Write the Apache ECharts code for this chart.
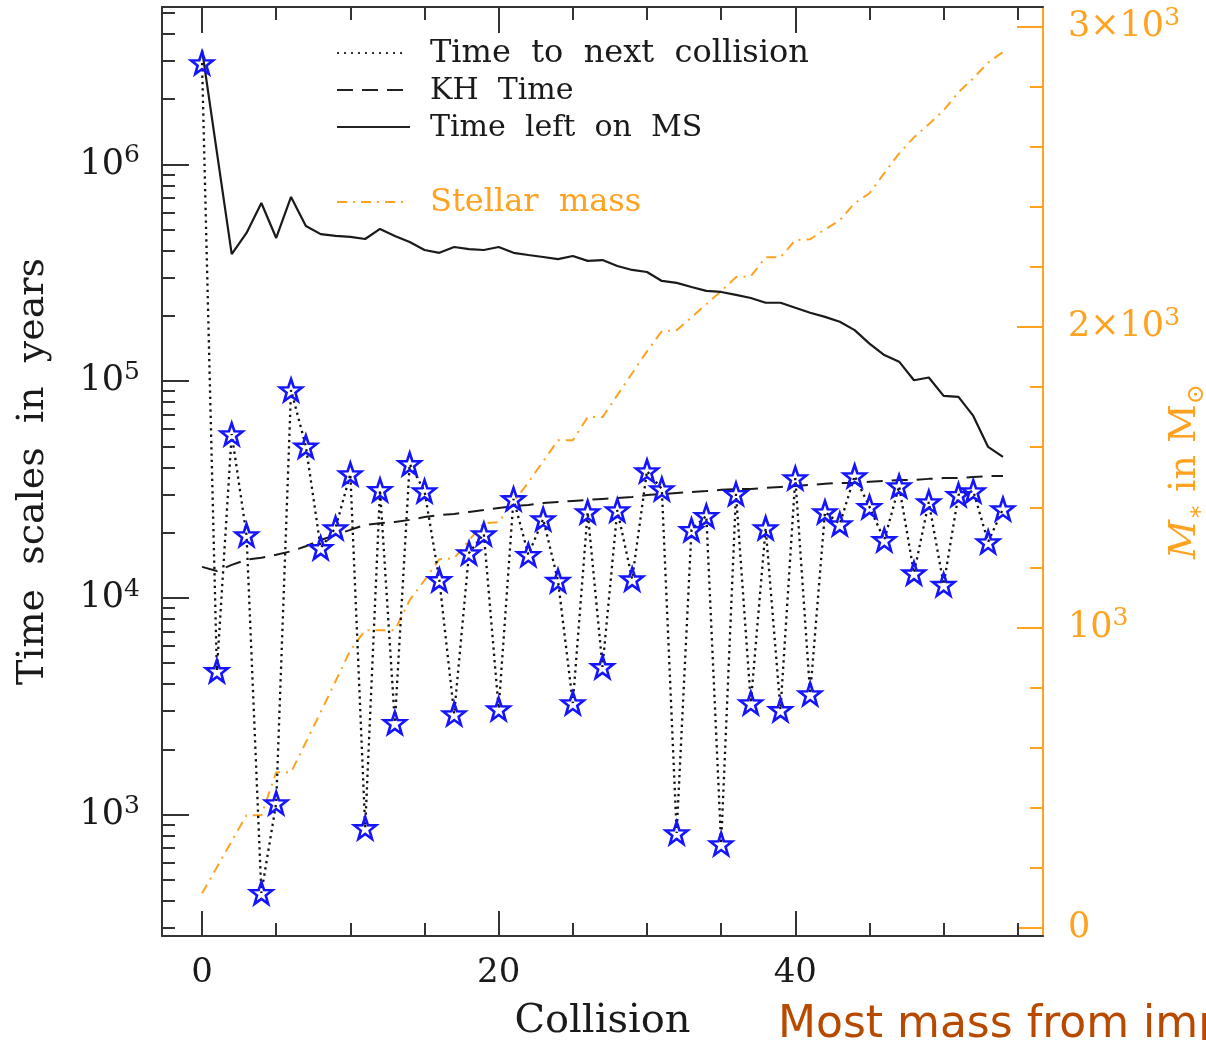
<!DOCTYPE html>
<html>
<head>
<meta charset="utf-8">
<script src="https://cdn.jsdelivr.net/npm/echarts@6/dist/echarts.min.js"></script>
<style>
html,body{margin:0;padding:0;background:#ffffff;}
#chart{width:1206px;height:1040px;}
</style>
</head>
<body>
<div id="chart"></div>
<script>
// ---------------- data ----------------
const collisions = [0,1,2,3,4,5,6,7,8,9,10,11,12,13,14,15,16,17,18,19,20,21,22,23,24,25,26,27,28,29,30,31,32,33,34,35,36,37,38,39,40,41,42,43,44,45,46,47,48,49,50,51,52,53,54];

// Time to next collision (years)
const timeToNext = [2.94e6, 4600, 5.7e4, 1.95e4, 435, 1130, 9.1e4, 5.0e4, 1.70e4, 2.10e4,
                    3.73e4, 867, 3.15e4, 2650, 4.15e4, 3.11e4, 1.21e4, 2910, 1.61e4, 1.97e4,
                    3070, 2.86e4, 1.58e4, 2.31e4, 1.20e4, 3270, 2.49e4, 4800, 2.54e4, 1.22e4,
                    3.85e4, 3.18e4, 822, 2.06e4, 2.39e4, 731, 3.02e4, 3270, 2.10e4, 3040,
                    3.57e4, 3600, 2.49e4, 2.19e4, 3.65e4, 2.63e4, 1.85e4, 3.28e4, 1.30e4, 2.77e4,
                    1.15e4, 2.99e4, 3.11e4, 1.81e4, 2.57e4];

// Kelvin-Helmholtz time (years)
const khTime = [13900, 13300, 14200, 15000, 15300, 15800, 16400, 17300, 18500, 19500,
                20600, 21700, 22100, 22400, 22900, 23600, 24100, 24400, 24900, 25400,
                26000, 26500, 26800, 27400, 27700, 28000, 28300, 28600, 28900, 29200,
                29800, 30100, 30500, 30800, 31100, 31500, 31800, 31800, 32200, 32500,
                32800, 33200, 33600, 33900, 33900, 34300, 34600, 35000, 35000, 35400,
                35700, 35700, 36100, 36500, 36500];

// Time left on main sequence (years)
const msTime = [3.38e6, 1.14e6, 3.86e5, 4.83e5, 6.64e5, 4.58e5, 7.08e5, 5.20e5, 4.77e5, 4.68e5,
                4.63e5, 4.53e5, 5.04e5, 4.68e5, 4.39e5, 4.03e5, 3.91e5, 4.16e5, 4.07e5, 4.03e5,
                4.16e5, 3.91e5, 3.82e5, 3.74e5, 3.66e5, 3.78e5, 3.59e5, 3.62e5, 3.40e5, 3.26e5,
                3.19e5, 2.90e5, 2.84e5, 2.72e5, 2.61e5, 2.58e5, 2.50e5, 2.42e5, 2.30e5, 2.30e5,
                2.18e5, 2.07e5, 1.98e5, 1.88e5, 1.72e5, 1.49e5, 1.32e5, 1.23e5, 1.01e5, 1.04e5,
                8.55e4, 8.46e4, 6.91e4, 4.97e4, 4.47e4];

// Stellar mass (solar masses), right axis
const stellarMass = [115, 202, 289, 375, 375, 518, 518, 618, 718, 821,
                     924, 991, 991, 991, 1091, 1157, 1227, 1230, 1290, 1347,
                     1350, 1417, 1483, 1553, 1623, 1623, 1700, 1700, 1773, 1846,
                     1919, 1986, 1989, 2032, 2076, 2119, 2166, 2169, 2232, 2232,
                     2289, 2292, 2325, 2355, 2412, 2445, 2512, 2578, 2631, 2675,
                     2721, 2781, 2828, 2880, 2915];

// ticks and labels
const xMajorTicks = [0, 20, 40];
const xMinorTicks = [0, 5, 10, 15, 20, 25, 30, 35, 40, 45, 50, 55];
const yMajorTicks = [1e3, 1e4, 1e5, 1e6];
const yMinorTicks = [300, 400, 500, 600, 700, 800, 900,
                     2000, 3000, 4000, 5000, 6000, 7000, 8000, 9000,
                     2e4, 3e4, 4e4, 5e4, 6e4, 7e4, 8e4, 9e4,
                     2e5, 3e5, 4e5, 5e5, 6e5, 7e5, 8e5, 9e5,
                     2e6, 3e6, 4e6, 5e6];
const yTickLabels = {1000: '{b|10}{s|3}', 10000: '{b|10}{s|4}', 100000: '{b|10}{s|5}', 1000000: '{b|10}{s|6}'};
const massMajorTicks = [0, 1000, 2000, 3000];
const massMinorTicks = [0, 200, 400, 600, 800, 1000, 1200, 1400, 1600, 1800, 2000, 2200, 2400, 2600, 2800, 3000];
const massTickLabels = {0: '{b|0}', 1000: '{b|10}{s|3}', 2000: '{b|2×10}{s|3}', 3000: '{b|3×10}{s|3}'};

const legendLabels = ['Time  to  next  collision', 'KH  Time', 'Time  left  on  MS', 'Stellar  mass'];

// ---------------- chart ----------------
const SERIF = 'DejaVu Serif';
const BLACK = '#1a1a1a';
const AXIS = '#333333';
const ORANGE = '#ffa21f';
const BLUE = '#1414ff';
const STAR = 'path://M50 0 L61.76 33.82 L97.55 34.55 L69.02 56.18 L79.39 90.45 L50 70 L20.61 90.45 L30.98 56.18 L2.45 34.55 L38.24 33.82 Z';

function pairs(ys) { return collisions.map((c, i) => [c, ys[i]]); }

function supRich(color) {
  return {
    b: {fontFamily: SERIF, fontSize: 35, color: color, lineHeight: 42},
    s: {fontFamily: SERIF, fontSize: 25, color: color, lineHeight: 25, verticalAlign: 'top'}
  };
}

const xRange = {min: -2.7, max: 56.7};
const yRange = {min: 275, max: 5.33e6};
const mRange = {min: -27, max: 3065};

const chart = echarts.init(document.getElementById('chart'), null, {renderer: 'canvas'});

const option = {
  animation: false,
  backgroundColor: '#ffffff',
  grid: {left: 162, right: 163, top: 7, bottom: 104, containLabel: false, outerBoundsMode: 'none'},
  xAxis: [
    {
      type: 'value', position: 'bottom', min: xRange.min, max: xRange.max,
      axisLine: {show: true, onZero: false, lineStyle: {color: AXIS, width: 2}},
      axisTick: {show: true, inside: true, length: 13, customValues: xMinorTicks, lineStyle: {color: AXIS, width: 2}},
      axisLabel: {show: true, customValues: xMajorTicks, margin: 20, color: BLACK, fontFamily: SERIF, fontSize: 34},
      splitLine: {show: false},
      name: 'Collision', nameLocation: 'middle', nameGap: 66, nameMoveOverlap: false,
      nameTextStyle: {color: BLACK, fontFamily: SERIF, fontSize: 40}
    },
    {
      type: 'value', position: 'bottom', min: xRange.min, max: xRange.max,
      axisLine: {show: false, onZero: false},
      axisTick: {show: true, inside: true, length: 25, customValues: xMajorTicks, lineStyle: {color: AXIS, width: 2}},
      axisLabel: {show: false}, splitLine: {show: false}
    },
    {
      type: 'value', position: 'top', min: xRange.min, max: xRange.max,
      axisLine: {show: true, onZero: false, lineStyle: {color: AXIS, width: 2}},
      axisTick: {show: true, inside: true, length: 13, customValues: xMinorTicks, lineStyle: {color: AXIS, width: 2}},
      axisLabel: {show: false}, splitLine: {show: false}
    },
    {
      type: 'value', position: 'top', min: xRange.min, max: xRange.max,
      axisLine: {show: false, onZero: false},
      axisTick: {show: true, inside: true, length: 26, customValues: xMajorTicks, lineStyle: {color: AXIS, width: 2}},
      axisLabel: {show: false}, splitLine: {show: false}
    }
  ],
  yAxis: [
    {
      type: 'log', logBase: 10, position: 'left', min: yRange.min, max: yRange.max,
      axisLine: {show: true, onZero: false, lineStyle: {color: AXIS, width: 2}},
      axisTick: {show: true, inside: true, length: 13, customValues: yMinorTicks, lineStyle: {color: AXIS, width: 2}},
      axisLabel: {show: true, customValues: yMajorTicks, margin: 22, color: BLACK, fontFamily: SERIF, fontSize: 35,
                  formatter: v => yTickLabels[Math.round(v)] || '', rich: supRich(BLACK)},
      splitLine: {show: false}, minorTick: {show: false},
      name: 'Time  scales  in  years', nameLocation: 'middle', nameGap: 110, nameRotate: 90, nameMoveOverlap: false,
      nameTextStyle: {color: BLACK, fontFamily: SERIF, fontSize: 38}
    },
    {
      type: 'log', logBase: 10, position: 'left', min: yRange.min, max: yRange.max,
      axisLine: {show: false, onZero: false},
      axisTick: {show: true, inside: true, length: 27, customValues: yMajorTicks, lineStyle: {color: AXIS, width: 2}},
      axisLabel: {show: false}, splitLine: {show: false}
    },
    {
      type: 'value', position: 'right', min: mRange.min, max: mRange.max,
      axisLine: {show: true, onZero: false, lineStyle: {color: ORANGE, width: 2}},
      axisTick: {show: true, inside: true, length: 13, customValues: massMinorTicks, lineStyle: {color: ORANGE, width: 2}},
      axisLabel: {show: true, customValues: massMajorTicks, margin: 25, color: ORANGE, fontFamily: SERIF, fontSize: 35,
                  formatter: v => massTickLabels[Math.round(v)] || '', rich: supRich(ORANGE)},
      splitLine: {show: false},
      name: '{m|M}{s|∗}{t| in M}{s|⊙}', nameLocation: 'middle', nameGap: 118, nameRotate: 90, nameMoveOverlap: false,
      nameTextStyle: {
        color: ORANGE, fontFamily: SERIF, fontSize: 38,
        rich: {
          m: {fontStyle: 'italic', fontFamily: SERIF, fontSize: 38, color: ORANGE, lineHeight: 48},
          t: {fontFamily: SERIF, fontSize: 38, color: ORANGE, lineHeight: 48},
          s: {fontFamily: SERIF, fontSize: 24, color: ORANGE, verticalAlign: 'bottom', padding: [16, 0, 0, 0]}
        }
      }
    },
    {
      type: 'value', position: 'right', min: mRange.min, max: mRange.max,
      axisLine: {show: false, onZero: false},
      axisTick: {show: true, inside: true, length: 26, customValues: massMajorTicks, lineStyle: {color: ORANGE, width: 2}},
      axisLabel: {show: false}, splitLine: {show: false}
    }
  ],
  series: [
    {
      name: 'Stellar mass', type: 'line', xAxisIndex: 0, yAxisIndex: 2,
      data: pairs(stellarMass), showSymbol: false, symbol: 'none',
      lineStyle: {color: ORANGE, width: 2, type: [10, 6, 2, 6]},
      emphasis: {disabled: true}, z: 2
    },
    {
      name: 'KH Time', type: 'line', xAxisIndex: 0, yAxisIndex: 0,
      data: pairs(khTime), showSymbol: false, symbol: 'none',
      lineStyle: {color: BLACK, width: 2, type: [16, 9]},
      emphasis: {disabled: true}, z: 3
    },
    {
      name: 'Time left on MS', type: 'line', xAxisIndex: 0, yAxisIndex: 0,
      data: pairs(msTime), showSymbol: false, symbol: 'none',
      lineStyle: {color: BLACK, width: 2.2, type: 'solid'},
      emphasis: {disabled: true}, z: 3
    },
    {
      name: 'Time to next collision', type: 'line', xAxisIndex: 0, yAxisIndex: 0,
      data: pairs(timeToNext), showSymbol: true, showAllSymbol: true,
      symbol: STAR, symbolSize: 22,
      itemStyle: {color: 'rgba(255,255,255,0)', borderColor: BLUE, borderWidth: 2.6},
      lineStyle: {color: '#111111', width: 2.3, type: [2.3, 4]},
      emphasis: {disabled: true}, z: 4
    }
  ],
  graphic: [
    {type: 'line', shape: {x1: 337, y1: 53, x2: 406, y2: 53}, style: {stroke: '#333', lineWidth: 2, lineDash: [2, 5]}},
    {type: 'line', shape: {x1: 337, y1: 90, x2: 410, y2: 90}, style: {stroke: '#222', lineWidth: 2, lineDash: [16, 9]}},
    {type: 'line', shape: {x1: 337, y1: 127, x2: 410, y2: 127}, style: {stroke: '#222', lineWidth: 2}},
    {type: 'line', shape: {x1: 337, y1: 202, x2: 406, y2: 202}, style: {stroke: ORANGE, lineWidth: 2, lineDash: [10, 6, 2, 6]}},
    {type: 'text', x: 430, y: 54, style: {text: legendLabels[0], fill: BLACK, font: '32px "DejaVu Serif"', textVerticalAlign: 'middle'}},
    {type: 'text', x: 430, y: 91, style: {text: legendLabels[1], fill: BLACK, font: '30px "DejaVu Serif"', textVerticalAlign: 'middle'}},
    {type: 'text', x: 430, y: 128, style: {text: legendLabels[2], fill: BLACK, font: '30px "DejaVu Serif"', textVerticalAlign: 'middle'}},
    {type: 'text', x: 430, y: 203, style: {text: legendLabels[3], fill: ORANGE, font: '32px "DejaVu Serif"', textVerticalAlign: 'middle'}},
    {type: 'text', x: 778, y: 1004, style: {text: 'Most mass from imp', fill: '#b84a00', font: '44px "DejaVu Sans"', textVerticalAlign: 'top'}}
  ]
};
chart.setOption(option);
</script>
</body>
</html>
